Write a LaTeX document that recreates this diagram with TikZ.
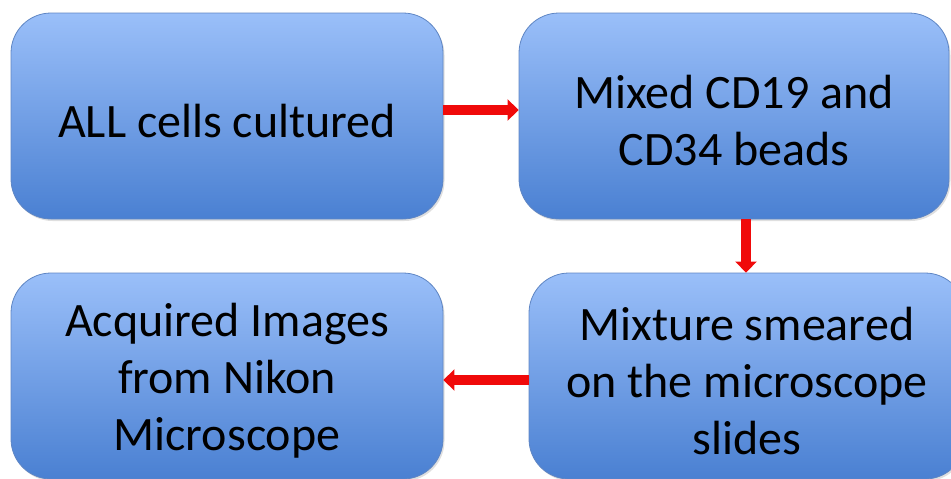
\documentclass[tikz,border=0pt]{standalone}
\usepackage{fontspec}
\setmainfont{Carlito}
\usetikzlibrary{arrows.meta,shadows}
\definecolor{boxtop}{HTML}{9ABFF9}
\definecolor{boxbot}{HTML}{4A80D2}
\definecolor{boxline}{HTML}{5F86C4}
\definecolor{arrred}{HTML}{F00A0A}
\tikzset{box/.style={draw=boxline,line width=0.8pt,top color=boxtop,bottom color=boxbot,rounded corners=40pt,inner sep=0pt,minimum height=206pt,drop shadow={opacity=0.25,shadow xshift=1.5pt,shadow yshift=-2pt}},txt/.style={align=center,font=\fontsize{48}{57}\selectfont,text=black,inner sep=0pt,yshift=-5pt},arr/.style={-{Triangle[length=11pt,width=21pt]},line width=10pt,draw=arrred}}
\begin{document}
\begin{tikzpicture}[x=1pt,y=-1pt]
\useasboundingbox (0,0) rectangle (951,479);
\node[box,minimum width=432pt,label={[txt]center:ALL cells cultured}] (cult) at (227,116) {};
\node[box,minimum width=430pt,label={[txt]center:Mixed CD19 and\\CD34 beads}] (mix) at (734,116) {};
\node[box,minimum width=436pt,label={[txt]center:Mixture smeared\\on the microscope\\slides}] (smear) at (747,376) {};
\node[box,minimum width=432pt,label={[txt]center:Acquired Images\\from Nikon\\Microscope}] (img) at (227,376) {};
\draw[arr] (cult.east |- 0,110) -- (mix.west |- 0,110);
\draw[arr] (746,0 |- mix.south) -- (746,0 |- smear.north);
\draw[arr] (smear.west |- 0,380) -- (img.east |- 0,380);
\end{tikzpicture}
\end{document}
